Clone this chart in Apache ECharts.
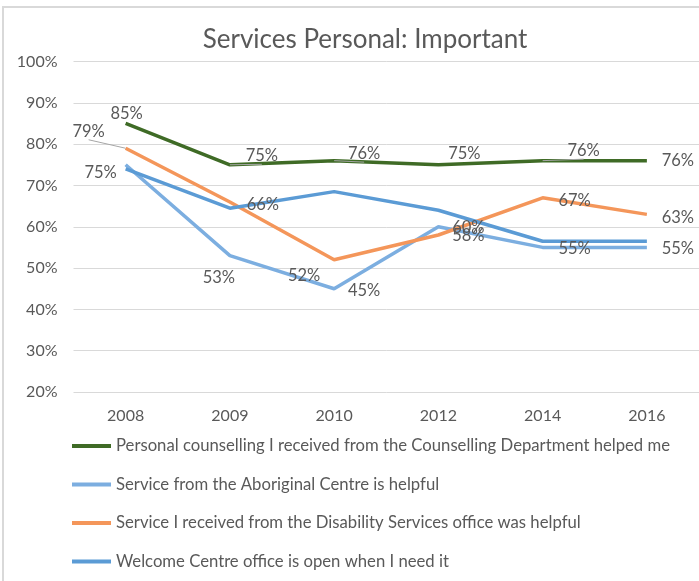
<!DOCTYPE html>
<html>
<head>
<meta charset="utf-8">
<script src="https://cdn.jsdelivr.net/npm/echarts@6/dist/echarts.min.js"></script>
<style>
  html, body { margin: 0; padding: 0; background: #fff; }
  #frame { position: absolute; left: 2px; top: 6px; width: 900px; height: 700px;
           border-left: 2px solid #d9d9d9; border-top: 2px solid #d9d9d9; }
  #chart { position: absolute; left: 0; top: 0; width: 699px; height: 581px; }
</style>
</head>
<body>
<div id="frame"></div>
<div id="chart"></div>
<script>
// Survey years
const years = ['2008', '2009', '2010', '2012', '2014', '2016'];

// Share of respondents rating each service important (%)
const counselling = [85, 75, 76, 75, 76, 76];
const aboriginal  = [75, 53, 45, 60, 55, 55];
const disability  = [79, 66, 52, 58, 67, 63];
const welcome     = [74, 64.5, 68.5, 64, 56.5, 56.5];

const seriesNames = [
  'Personal counselling I received from the Counselling Department helped me',
  'Service from the Aboriginal Centre is helpful',
  'Service I received from the Disability Services office was helpful',
  'Welcome Centre office is open when I need it'
];

// Where each data label sits relative to its point: [dx, dy], plus an optional leader line
const counsellingLabels = [[1, -10], [32, -9, true], [30, -7, true], [26, -11], [41, -10, true], [31, 0]];
const aboriginalLabels  = [[-25, 8], [-11, 22], [30, 2], [30, 1], [32, 1], [31, 1]];
const disabilityLabels  = [[-37, -17, true], [33, 3], [-30, 16], [30, 1], [32, 3], [31, 3]];

const FONT = 'Lato';
const GREY = '#595959';

function labelledData(values, placement) {
  return values.map((v, i) => {
    const p = placement[i];
    const item = { value: v, label: { offset: [p[0], p[1]] } };
    if (p[2]) {
      item.labelLine = { show: true, length2: 8, lineStyle: { color: '#a6a6a6', width: 1 } };
    }
    return item;
  });
}

function lineSeries(name, color, data, withLabels) {
  return {
    name: name,
    type: 'line',
    data: data,
    symbol: 'circle',
    symbolSize: 0,
    showSymbol: true,
    lineStyle: { color: color, width: 3.5 },
    itemStyle: { color: color },
    emphasis: { disabled: true },
    label: {
      show: withLabels,
      position: 'inside',
      formatter: p => Math.round(p.value) + '%',
      color: GREY,
      fontFamily: FONT,
      fontSize: 16.5
    },
    labelLine: { show: false },
    z: 2
  };
}

const chart = echarts.init(document.getElementById('chart'), null, { renderer: 'canvas' });

chart.setOption({
  animation: false,
  backgroundColor: 'transparent',
  title: {
    text: 'Services Personal: Important',
    left: 365,
    top: 27,
    padding: 0,
    textAlign: 'center',
    textStyle: { color: GREY, fontFamily: FONT, fontSize: 26, fontWeight: 'normal' }
  },
  grid: { left: 73.5, top: 61.5, width: 632, height: 330.5, containLabel: false },
  xAxis: {
    type: 'category',
    data: years,
    boundaryGap: true,
    axisLine: { show: false },
    axisTick: { show: false },
    axisLabel: { color: GREY, fontFamily: FONT, fontSize: 16, margin: 16 }
  },
  yAxis: {
    type: 'value',
    min: 20,
    max: 100,
    interval: 10,
    axisLine: { show: false },
    axisTick: { show: false },
    splitLine: { lineStyle: { color: '#d9d9d9', width: 1 } },
    axisLabel: { color: GREY, fontFamily: FONT, fontSize: 16, margin: 16, formatter: '{value}%' }
  },
  legend: {
    orient: 'vertical',
    left: 67,
    top: 432,
    itemWidth: 39,
    itemHeight: 4,
    itemGap: 20.5,
    icon: 'rect',
    selectedMode: false,
    textStyle: { color: GREY, fontFamily: FONT, fontSize: 16.7, lineHeight: 18 },
    data: seriesNames
  },
  series: [
    lineSeries(seriesNames[0], '#3f6b26', labelledData(counselling, counsellingLabels), true),
    lineSeries(seriesNames[1], '#7caee0', labelledData(aboriginal, aboriginalLabels), true),
    lineSeries(seriesNames[2], '#f4965a', labelledData(disability, disabilityLabels), true),
    lineSeries(seriesNames[3], '#5b9bd5', welcome, false)
  ]
});
</script>
</body>
</html>
